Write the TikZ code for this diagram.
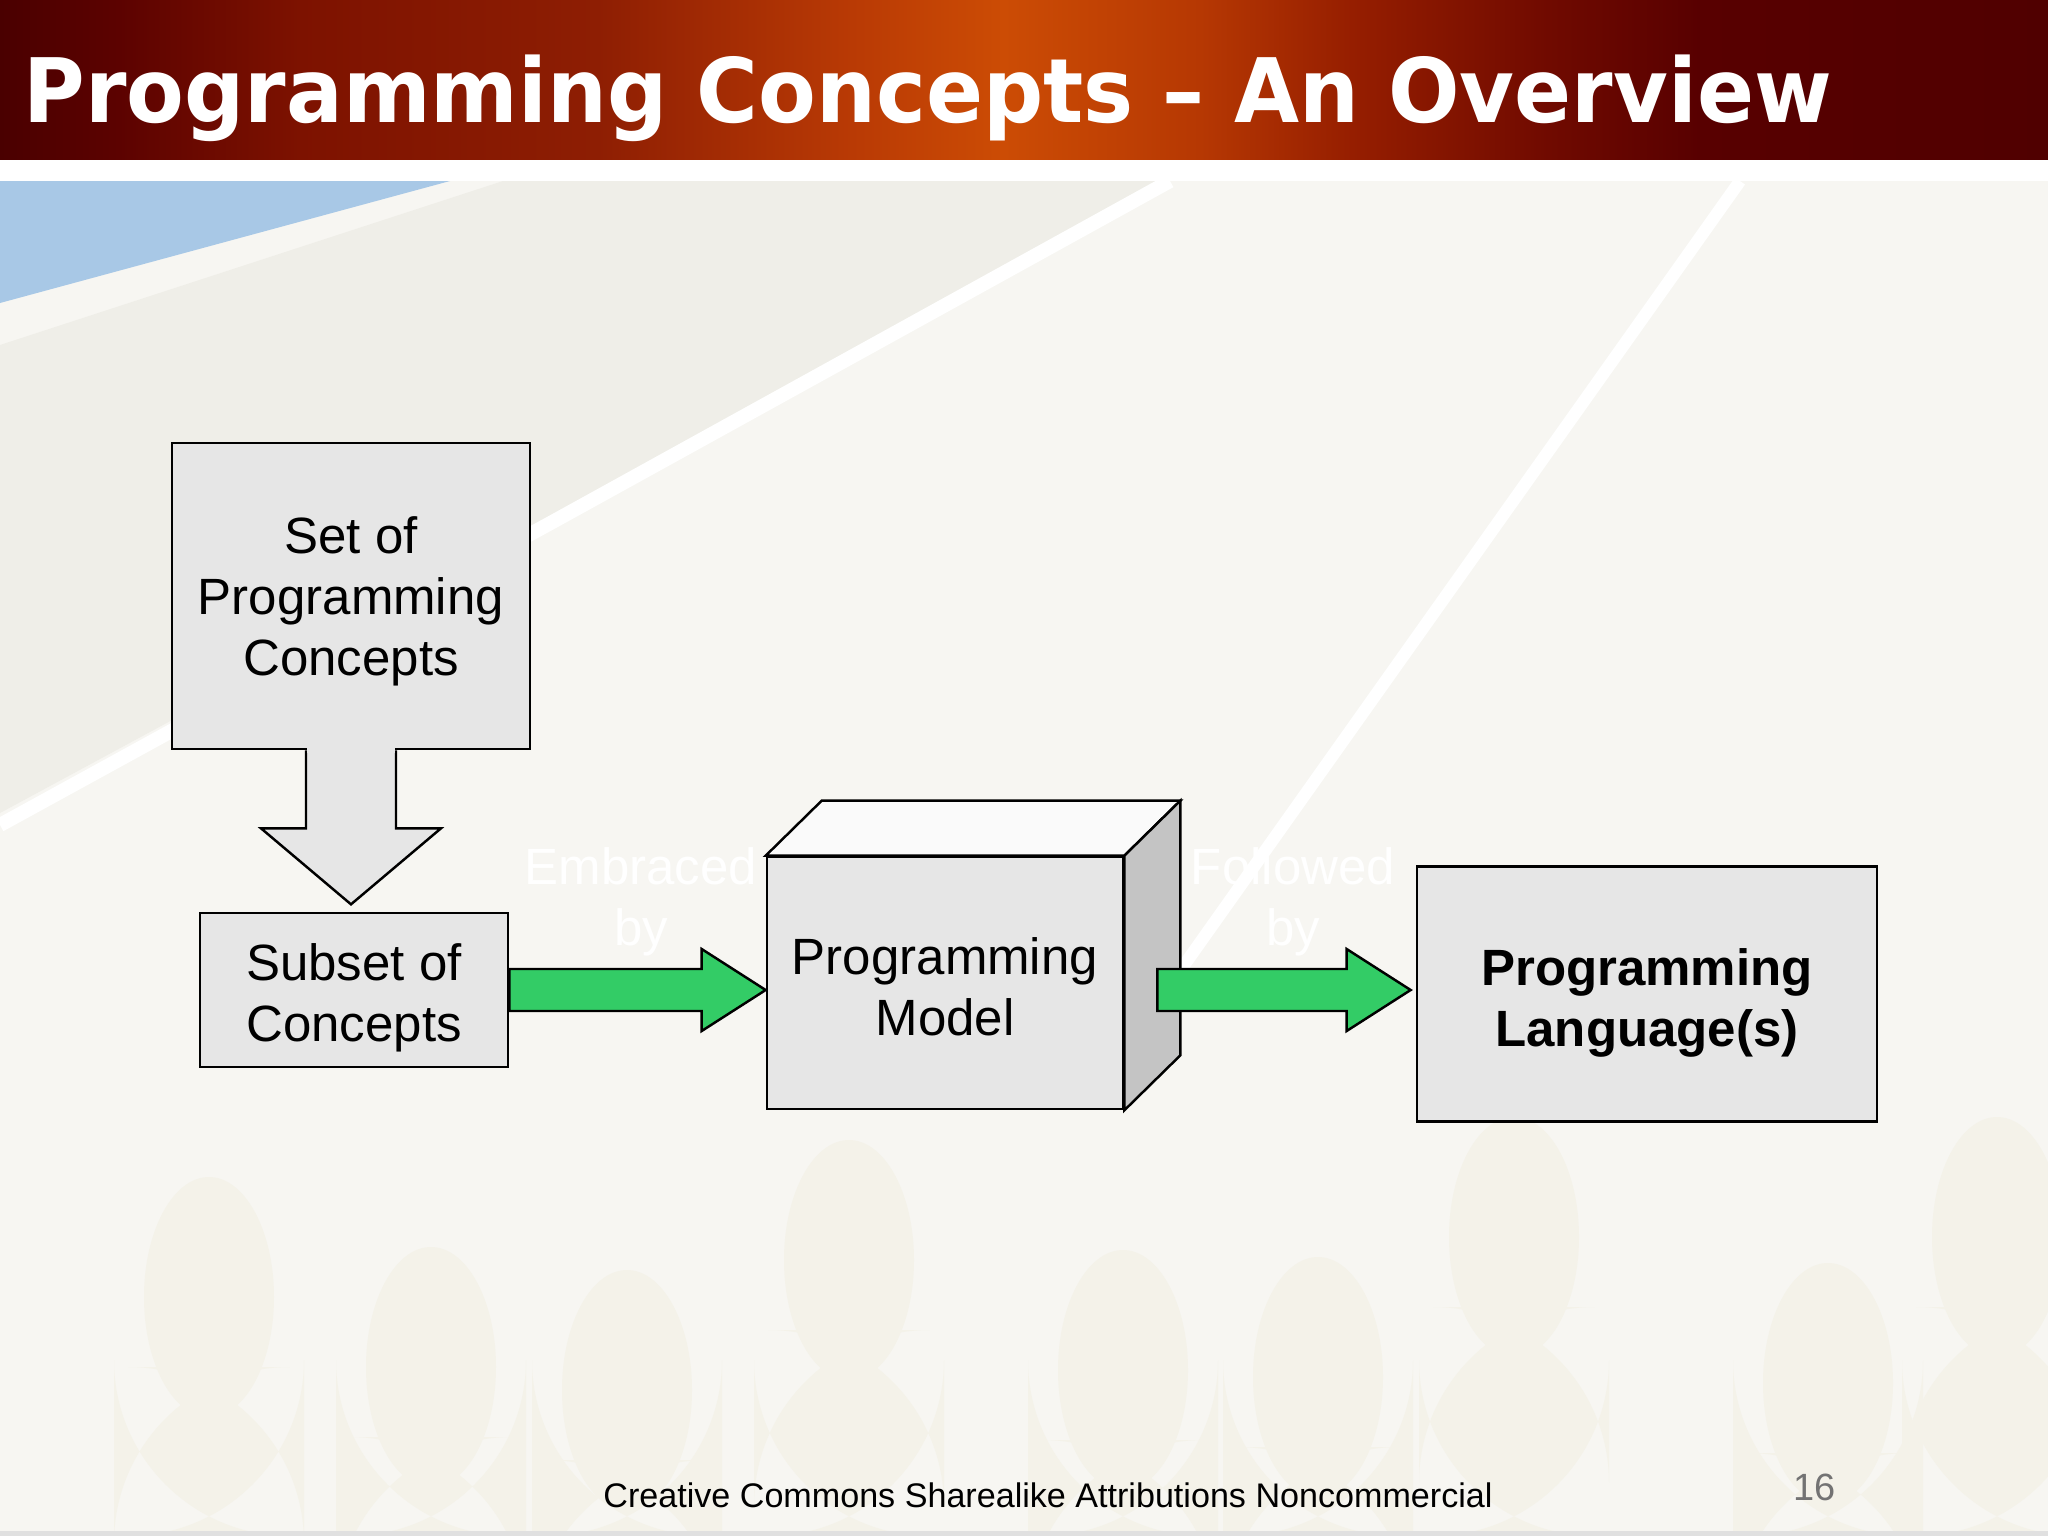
\documentclass[tikz,border=0pt]{standalone}
\usepackage{fontspec}
\setmainfont{Liberation Sans}
\newfontfamily\titlefont{DejaVu Sans}
\usepackage{graphicx}
\usetikzlibrary{calc,positioning}
\definecolor{boxgrey}{RGB}{230,230,230}
\definecolor{cubetop}{RGB}{250,250,250}
\definecolor{cubeside}{RGB}{196,196,196}
\definecolor{flowgreen}{RGB}{51,204,102}
\definecolor{slidebg}{RGB}{247,246,242}
\definecolor{bandbeige}{RGB}{239,238,232}
\definecolor{skyblue}{RGB}{168,200,230}
\definecolor{crowd}{RGB}{244,242,233}
\definecolor{tdarkA}{RGB}{74,0,0}
\definecolor{tdarkB}{RGB}{92,2,0}
\definecolor{tredA}{RGB}{125,18,0}
\definecolor{tredB}{RGB}{142,30,3}
\definecolor{torangeA}{RGB}{185,58,5}
\definecolor{torangeB}{RGB}{204,76,5}
\definecolor{torangeC}{RGB}{182,56,3}
\definecolor{tredC}{RGB}{150,30,0}
\definecolor{tredD}{RGB}{112,10,0}
\definecolor{tdarkC}{RGB}{88,0,0}
\definecolor{tdarkD}{RGB}{80,0,0}
\pgfdeclarehorizontalshading{titlebar}{100bp}{color(0bp)=(tdarkA); color(25bp)=(tdarkA);
  color(27.9bp)=(tdarkB); color(32.3bp)=(tredA); color(39.6bp)=(tredB);
  color(45.8bp)=(torangeA); color(49.5bp)=(torangeB); color(54.3bp)=(torangeC);
  color(58bp)=(tredC); color(62.8bp)=(tredD); color(66.5bp)=(tdarkC);
  color(75bp)=(tdarkD); color(100bp)=(tdarkD)}
% green block arrow between two points
\newcommand{\flowarrow}[2]{%
  \draw[greenflow] ($(#1)+(0,-21)$) -- ($(#2)+(-64,-21)$) -- ($(#2)+(-64,-41)$) -- (#2)
    -- ($(#2)+(-64,41)$) -- ($(#2)+(-64,21)$) -- ($(#1)+(0,21)$) -- cycle;}

\begin{document}
\begin{tikzpicture}[
    x=0.01cm, y=-0.01cm,
    conceptbox/.style={draw=black, fill=boxgrey, line width=0.7pt, inner sep=0pt},
    boxtext/.style={align=center, inner sep=0pt, font=\fontsize{14.5}{17.3}\selectfont},
    ghost/.style={text=white, align=center, font=\fontsize{14.5}{17.3}\selectfont},
    greenflow/.style={draw=black, fill=flowgreen, line width=0.7pt},
    facet/.style={draw=black, line width=0.7pt}
]
\useasboundingbox (0,0) rectangle (2048,1536);

% background
\fill[slidebg] (0,159) rectangle (2048,1536);
\fill[white] (0,159) rectangle (2048,181);
\fill[skyblue] (0,181) -- (450,181) -- (0,303) -- cycle;
\fill[bandbeige] (0,345) -- (503,181) -- (1162,181) -- (548,517) -- (0,813) -- cycle;
\draw[white, line width=4pt] (1170,181) -- (556,520) -- (0,825);
\draw[white, line width=3.5pt] (1740,181) -- (1170,985);
\foreach \hx/\hy in {209/1177, 431/1247, 627/1270, 849/1140, 1123/1250, 1318/1257, 1514/1117, 1828/1263, 1997/1117} {
    \fill[crowd] (\hx,\hy+120) ellipse [x radius=65, y radius=120];
    \fill[crowd, rounded corners=50] (\hx-95,\hy+190) rectangle (\hx+95,1536);
}
\fill[black!12] (0,1531) rectangle (2048,1536);

% title bar
\shade[shading=titlebar] (0,0) rectangle (2048,159);
\node[anchor=base west, inner sep=0pt, text=white] (title) at (23,122)
    {\resizebox{18.07cm}{\height}{\titlefont\bfseries\fontsize{25.3}{30}\selectfont Programming Concepts – An Overview}};

% faint labels behind the flow
\node[ghost] (embraced) at (641,902) {Embraced\\by};
\node[ghost] (followed) at (1293,902) {Followed\\by};

% boxes
\node[conceptbox, minimum width=3.58cm, minimum height=3.06cm] (setbox) at (351,596) {};
\node[boxtext] (settext) at ($(setbox.center)+(0,5)$) {Set of\\Programming\\Concepts};
\draw[line width=0.7pt, fill=boxgrey] ($(setbox.south)+(-45,0)$) -- ++(0,78) -- ++(-45,0)
    -- ($(setbox.south)+(0,154)$) -- ($(setbox.south)+(90,78)$) -- ++(-45,0) -- ++(0,-78);
\fill[boxgrey] ($(setbox.south)+(-44,-3)$) rectangle ($(setbox.south)+(44,3)$);

\node[conceptbox, minimum width=3.08cm, minimum height=1.54cm] (subbox) at (354,990) {};
\node[boxtext] (subtext) at ($(subbox.center)+(0,8)$) {Subset of\\Concepts};

\node[conceptbox, minimum width=3.56cm, minimum height=2.52cm] (model) at (945,983) {};
\node[boxtext] (modeltext) at ($(model.center)+(0,4)$) {Programming\\Model};
\draw[facet, fill=cubetop] (model.north west) -- ++(56,-55) -- ($(model.north east)+(56,-55)$) -- (model.north east) -- cycle;
\draw[facet, fill=cubeside] (model.north east) -- ++(56,-55) -- ($(model.south east)+(56,-55)$) -- (model.south east) -- cycle;

\node[conceptbox, minimum width=4.60cm, minimum height=2.55cm] (langbox) at (1647,994) {};
\node[boxtext, font=\fontsize{14.5}{17.3}\selectfont\bfseries] (langtext) at ($(langbox.center)+(0,9)$) {Programming\\Language(s)};

% arrows
\coordinate (tipA) at (model.west |- subbox.east);
\coordinate (tailB) at ($(model.east |- subbox.east)+(33,0)$);
\coordinate (tipB) at ($(langbox.west |- subbox.east)+(-5,0)$);
\flowarrow{subbox.east}{tipA}
\flowarrow{tailB}{tipB}

% footer
\node[anchor=base, inner sep=0pt, font=\fontsize{9.7}{11}\selectfont] (footer) at (1048,1507) {Creative Commons Sharealike Attributions Noncommercial};
\node[anchor=base west, inner sep=0pt, text=black!55, font=\fontsize{10.8}{12}\selectfont] (pageno) at (1793,1500) {16};
\end{tikzpicture}
\end{document}
